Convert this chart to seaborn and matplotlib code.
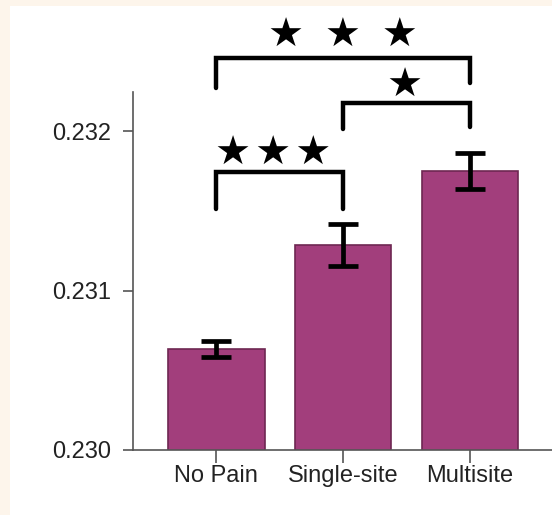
import matplotlib
matplotlib.use("Agg")
import matplotlib.pyplot as plt
from matplotlib.patches import Rectangle
import seaborn as sns
import pandas as pd

# ---- data ----
groups = ["No Pain", "Single-site", "Multisite"]
means = [0.230633, 0.231285, 0.231748]
errors = [0.000052, 0.000134, 0.000113]
yticks = [0.230, 0.231, 0.232]
ytick_labels = ["0.230", "0.231", "0.232"]
# significance comparisons: (group a, group b, label)
comparisons = [(0, 1, "★\u200a★\u200a★"), (1, 2, "★"), (0, 2, "★ \u2009★ \u2009★")]

df = pd.DataFrame({"group": groups, "value": means})

sns.set_theme(style="white")
plt.rcParams["font.family"] = ["Liberation Sans", "DejaVu Sans"]

fig = plt.figure(figsize=(5.52, 5.15), dpi=100)
fig.patch.set_facecolor("#FDF5EB")
bg = Rectangle((10 / 552, 0), 1, 1 - 6 / 515, transform=fig.transFigure,
               facecolor="white", edgecolor="none", zorder=-10)
fig.add_artist(bg)

ax = fig.add_axes([133 / 552, 1 - 450 / 515, 1 - 133 / 552, (450 - 92) / 515])
ax.set_facecolor("none")
ax.set_zorder(1)

bar_color = "#A23E7C"
sns.barplot(data=df, x="group", y="value", color=bar_color, saturation=1,
            errorbar=None, width=0.76, edgecolor="#6E2752", linewidth=1.2, ax=ax)
ax.errorbar(x=list(range(len(groups))), y=means, yerr=errors, fmt="none",
            ecolor="black", elinewidth=3.4, capsize=10.5, capthick=3.4, zorder=5)

ax.set_ylim(0.230, 0.232245)
ax.set_xlim(-0.657, 2.646)
ax.set_yticks(yticks)
ax.set_yticklabels(ytick_labels)
ax.set_xlabel("")
ax.set_ylabel("")

for side in ["top", "right"]:
    ax.spines[side].set_visible(False)
for side in ["left", "bottom"]:
    ax.spines[side].set_color("#555555")
    ax.spines[side].set_linewidth(1.2)

ax.tick_params(axis="y", which="both", left=True, length=7, width=1.2, color="#555555",
               labelsize=17, labelcolor="#222222", pad=9)
ax.tick_params(axis="x", which="both", bottom=True, length=9, width=1.2, color="#555555",
               labelsize=17, labelcolor="#222222", pad=2)

# ---- significance brackets (layout) ----
bracket_levels = {(0, 1): (0.231743, 0.231511, 0.231511, 0.45, 0.231860),
                  (1, 2): (0.232177, 0.232013, 0.232025, 1.48, 0.232285),
                  (0, 2): (0.232460, 0.232270, 0.232301, 1.0, 0.232595)}
for a, b, label in comparisons:
    ytop, yl, yr, xs, ys = bracket_levels[(a, b)]
    ax.plot([a, a, b, b], [yl, ytop, ytop, yr], color="black", lw=3.2,
            solid_joinstyle="miter", clip_on=False, zorder=6)
    ax.text(xs, ys, label, ha="center", va="center", fontsize=29,
            family="DejaVu Sans", color="black", clip_on=False)

fig.savefig("out.png", dpi=100)
